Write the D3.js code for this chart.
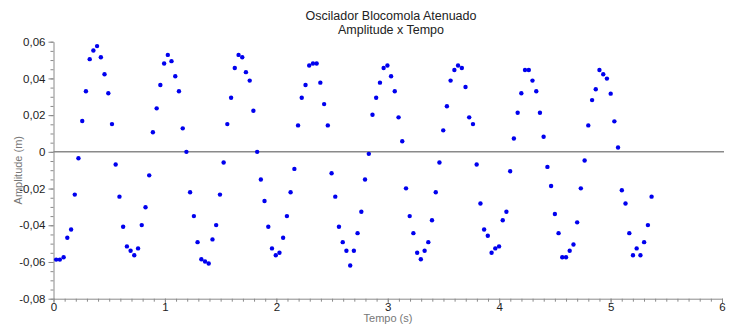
<!DOCTYPE html>
<html>
<head>
<meta charset="utf-8">
<script src="https://cdn.jsdelivr.net/npm/d3@7"></script>
<style>
  body { margin: 0; background: #fff; }
  svg { font-family: "Liberation Sans", Arial, sans-serif; }
</style>
</head>
<body>
<div id="chart"></div>
<script>
const tempo = [
  0.024, 0.057, 0.091, 0.124, 0.158, 0.191, 0.224, 0.258, 0.291, 0.325,
  0.358, 0.391, 0.425, 0.458, 0.492, 0.525, 0.558, 0.592, 0.625, 0.659,
  0.692, 0.725, 0.759, 0.792, 0.826, 0.859, 0.892, 0.926, 0.959, 0.993,
  1.026, 1.059, 1.093, 1.126, 1.160, 1.193, 1.226, 1.260, 1.293, 1.327,
  1.360, 1.393, 1.427, 1.460, 1.494, 1.527, 1.560, 1.594, 1.627, 1.661,
  1.694, 1.727, 1.761, 1.794, 1.828, 1.861, 1.894, 1.928, 1.961, 1.995,
  2.028, 2.061, 2.095, 2.128, 2.162, 2.195, 2.228, 2.262, 2.295, 2.329,
  2.362, 2.395, 2.429, 2.462, 2.496, 2.529, 2.562, 2.596, 2.629, 2.663,
  2.696, 2.729, 2.763, 2.796, 2.830, 2.863, 2.896, 2.930, 2.963, 2.997,
  3.030, 3.063, 3.097, 3.130, 3.164, 3.197, 3.230, 3.264, 3.297, 3.331,
  3.364, 3.397, 3.431, 3.464, 3.498, 3.531, 3.564, 3.598, 3.631, 3.665,
  3.698, 3.731, 3.765, 3.798, 3.832, 3.865, 3.898, 3.932, 3.965, 3.999,
  4.032, 4.065, 4.099, 4.132, 4.166, 4.199, 4.232, 4.266, 4.299, 4.333,
  4.366, 4.399, 4.433, 4.466, 4.500, 4.533, 4.566, 4.600, 4.633, 4.667,
  4.700, 4.733, 4.767, 4.800, 4.834, 4.867, 4.900, 4.934, 4.967, 5.001,
  5.034, 5.067, 5.101, 5.134, 5.168, 5.201, 5.234, 5.268, 5.301, 5.335,
  5.368
];

const amplitude = [
  -0.0587, -0.0587, -0.0574, -0.0468, -0.0423, -0.0233, -0.0035, 0.0168, 0.0330, 0.0505,
  0.0552, 0.0576, 0.0515, 0.0423, 0.0319, 0.0151, -0.0069, -0.0244, -0.0408, -0.0515,
  -0.0539, -0.0563, -0.0526, -0.0399, -0.0302, -0.0128, 0.0107, 0.0237, 0.0364, 0.0481,
  0.0528, 0.0494, 0.0412, 0.0330, 0.0128, 0.0000, -0.0220, -0.0350, -0.0492, -0.0585,
  -0.0597, -0.0608, -0.0477, -0.0399, -0.0233, -0.0058, 0.0151, 0.0295, 0.0457, 0.0528,
  0.0515, 0.0434, 0.0388, 0.0224, 0.0000, -0.0151, -0.0268, -0.0408, -0.0526, -0.0563,
  -0.0550, -0.0468, -0.0350, -0.0220, -0.0093, 0.0144, 0.0295, 0.0364, 0.0470, 0.0481,
  0.0481, 0.0377, 0.0260, 0.0144, -0.0117, -0.0244, -0.0408, -0.0492, -0.0539, -0.0619,
  -0.0539, -0.0443, -0.0326, -0.0151, -0.0011, 0.0202, 0.0295, 0.0377, 0.0457, 0.0470,
  0.0412, 0.0330, 0.0188, 0.0058, -0.0199, -0.0350, -0.0443, -0.0550, -0.0585, -0.0539,
  -0.0492, -0.0373, -0.0220, -0.0058, 0.0117, 0.0248, 0.0388, 0.0446, 0.0470, 0.0457,
  0.0353, 0.0188, 0.0151, -0.0069, -0.0281, -0.0423, -0.0457, -0.0550, -0.0526, -0.0515,
  -0.0373, -0.0326, -0.0106, 0.0073, 0.0213, 0.0319, 0.0446, 0.0446, 0.0388, 0.0330,
  0.0213, 0.0082, -0.0082, -0.0186, -0.0339, -0.0443, -0.0574, -0.0574, -0.0539, -0.0505,
  -0.0384, -0.0199, -0.0047, 0.0144, 0.0282, 0.0341, 0.0446, 0.0423, 0.0399, 0.0317,
  0.0166, 0.0024, -0.0209, -0.0281, -0.0443, -0.0563, -0.0526, -0.0563, -0.0492, -0.0399,
  -0.0244
];

const xTicks = [0, 1, 2, 3, 4, 5, 6];
const xTickLabels = ["0", "1", "2", "3", "4", "5", "6"];
const yTicks = [0.06, 0.04, 0.02, 0, -0.02, -0.04, -0.06, -0.08];
const yTickLabels = ["0,06", "0,04", "0,02", "0", "-0,02", "-0,04", "-0,06", "-0,08"];

const titleLines = ["Oscilador Blocomola Atenuado", "Amplitude x Tempo"];
const xTitle = "Tempo (s)";
const yTitle = "Amplitude (m)";

const width = 731, height = 327;
const data = tempo.map((t, i) => ({ t, a: amplitude[i] }));

const svg = d3.select("#chart").append("svg")
  .attr("width", width)
  .attr("height", height);

const x = d3.scaleLinear().domain([0, 6]).range([53.5, 722]);
const y = d3.scaleLinear().domain([-0.08, 0.06]).range([298.7, 41.7]);

const axisColor = "#8a8a8a";

// titulo
svg.append("g").selectAll("text")
  .data(titleLines)
  .enter().append("text")
  .attr("x", 391)
  .attr("y", (d, i) => 20 + i * 14)
  .attr("text-anchor", "middle")
  .attr("font-size", 12.5)
  .attr("fill", "#222")
  .text(d => d);

// linha do zero
svg.append("line")
  .attr("x1", x(0)).attr("x2", x(6) + 2)
  .attr("y1", y(0)).attr("y2", y(0))
  .attr("stroke", axisColor)
  .attr("stroke-width", 1.5);

// eixo x: menores a cada 0,1
const xAxis = svg.append("g").attr("transform", `translate(0,${y(-0.08)})`);
xAxis.append("g")
  .call(d3.axisBottom(x).tickValues(d3.range(0, 61).map(i => i / 10)).tickSize(3).tickFormat(""))
  .call(g => g.select(".domain").remove())
  .selectAll("line").attr("stroke", axisColor);
xAxis.append("g")
  .call(d3.axisBottom(x).tickValues(xTicks).tickSize(5).tickSizeOuter(0)
    .tickFormat((d, i) => xTickLabels[i]))
  .call(g => g.select(".domain").attr("stroke", axisColor))
  .call(g => g.selectAll("line").attr("stroke", axisColor))
  .call(g => g.selectAll("text").attr("fill", "#222").attr("font-size", 11.5).attr("dy", "0.35em"));

// eixo y: menores a cada 0,005
const yAxis = svg.append("g").attr("transform", `translate(${x(0)},0)`);
yAxis.append("g")
  .call(d3.axisLeft(y).tickValues(d3.range(-16, 13).map(i => i * 0.005)).tickSize(3).tickFormat(""))
  .call(g => g.select(".domain").remove())
  .selectAll("line").attr("stroke", axisColor);
yAxis.append("g")
  .call(d3.axisLeft(y).tickValues(yTicks).tickSize(5).tickSizeOuter(0)
    .tickFormat((d, i) => yTickLabels[i]))
  .call(g => g.select(".domain").attr("stroke", axisColor))
  .call(g => g.selectAll("line").attr("stroke", axisColor))
  .call(g => g.selectAll("text").attr("fill", "#222").attr("font-size", 11.5));

// titulos dos eixos
svg.append("text")
  .attr("x", 388)
  .attr("y", 322)
  .attr("text-anchor", "middle")
  .attr("font-size", 11)
  .attr("fill", "#777")
  .text(xTitle);

svg.append("text")
  .attr("transform", `translate(22,${y(-0.01)}) rotate(-90)`)
  .attr("text-anchor", "middle")
  .attr("font-size", 11)
  .attr("fill", "#777")
  .text(yTitle);

// pontos
svg.append("g").selectAll("circle")
  .data(data)
  .enter().append("circle")
  .attr("cx", d => x(d.t))
  .attr("cy", d => y(d.a))
  .attr("r", 2.2)
  .attr("fill", "#0000ee");
</script>
</body>
</html>
